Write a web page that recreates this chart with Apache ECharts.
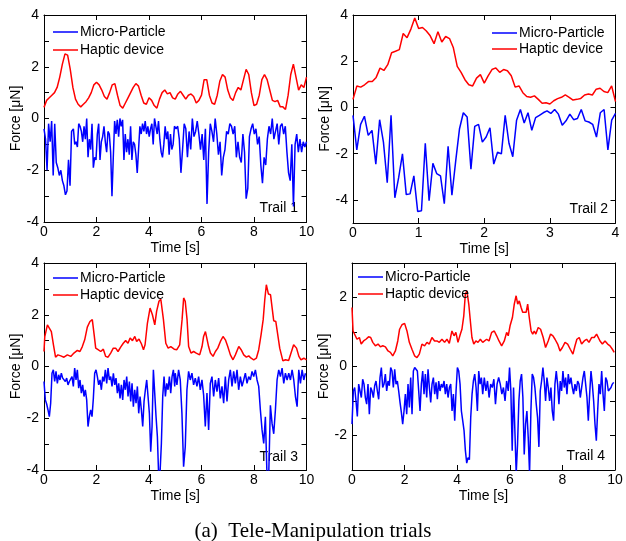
<!DOCTYPE html>
<html>
<head>
<meta charset="utf-8">
<script src="https://cdn.jsdelivr.net/npm/echarts@6/dist/echarts.min.js"></script>
<style>html,body{margin:0;padding:0;background:#fff}#c{width:626px;height:541px}</style>
</head>
<body>
<div id="c"></div>
<script>
// ---------- data ----------
const seriesNames = ['Micro-Particle', 'Haptic device'];
const trailLabels = ['Trail 1', 'Trail 2', 'Trail 3', 'Trail 4'];
const xTicks10 = [0, 2, 4, 6, 8, 10];
const xTicks4 = [0, 1, 2, 3, 4];
const caption = '(a)  Tele-Manipulation trials';

// Trail 1
const p1RedV = [0.43,0.7,0.8,0.9,1.0,1.2,1.6,2.1,2.5,2.45,
1.9,1.2,0.75,0.55,0.45,0.55,0.65,0.8,1.0,1.3,
1.4,1.3,1.1,0.85,0.75,1.0,1.3,1.35,0.9,0.5,
0.4,0.6,0.8,1.0,1.2,1.35,1.25,0.9,0.6,0.55,
0.8,0.7,0.5,0.4,0.75,1.0,1.1,0.95,1.0,0.8,
0.75,0.95,1.05,0.9,0.75,0.9,0.95,0.85,0.6,0.7,
0.9,1.5,1.5,0.9,0.6,0.55,0.9,1.45,1.7,1.6,
1.1,0.8,0.7,1.0,1.2,1.1,1.5,1.9,1.7,1.0,
0.5,0.55,0.9,1.5,1.7,1.5,1.1,0.7,0.65,0.7,
0.45,0.45,0.35,0.9,1.7,2.1,1.6,1.1,1.3,1.2,1.6];
const p1BlueA = [-0.4,-0.8,-2.0,-0.2,-0.9,-0.1,-2.2,-0.2,-1.7,-1.9,-2.2,-2.0,-2.4,-2.6,-2.95,-2.8,-1.6,-2.6,-0.5];
const p1BlueB = [-0.4,-1.0,-0.9,-1.1,-0.2,-0.3,-0.5,-0.9,-0.3,-0.8,0.0,-1.5,-0.8,-1.2,-0.2,-1.9,-1.5,-1.6,-0.6,-0.2,
-1.6,-0.9,-0.7,-0.3,-0.9,-1.3,-0.5,-0.6,-1.3,-3.0,-1.5,-0.1,-0.6,-0.05,-0.7,0.0,-0.3,-0.05,-1.6,-0.6,
-1.3,-0.8,-1.4,-0.3,-1.6,-0.9,-1.0,-1.4,-2.1,-1.2,-0.3,-0.6,-0.2,-0.5,-0.1,-0.6,-0.3,-0.7,-0.4,-0.2,
-1.0,0.0,-0.3,-0.6,-0.1,-0.8,-1.3,-1.5,-1.0,-0.3,-0.8,-0.5,-1.4,-0.6,-1.2,-1.0,-0.3];
const p1BlueC = [-0.4,-0.3,-0.8,-2.1,-1.2,-0.2,-0.4,-1.5,-0.5,-1.2,0.0,-0.7,-0.5,-0.1,-0.6,-1.2,-0.6,-1.6,-0.4,-3.3,
-1.3,-0.2,-0.5,-0.9,0.0,-0.6,-1.4,-0.9,-2.2,-1.5,-1.2,-0.5,-0.6,-0.2,-0.3,-0.6,-0.3,-1.5,-0.9,-1.5,
-1.7,-0.6,-1.3,-3.1,-2.7,-0.7,-0.4,-0.2,-0.6,-0.4,-1.0,-0.7,-1.8,-2.5,-1.5,-1.8,-0.8,-0.3,-0.6,0.0,
-0.8,-0.5,-0.2,-1.0,-0.3,-0.2,-0.6,-0.3,-1.3,-2.1,-2.4,-1.0,-3.4,-1.0,-0.6,-1.3,-0.8,-1.3,-0.9,-1.1,-0.9];

// Trail 2
const p2RedV = [0.35,0.93,0.88,0.98,1.12,1.12,1.3,1.7,1.6,1.85,
2.37,2.43,2.5,3.2,3.02,3.39,3.87,3.42,3.46,3.31,
3.1,2.76,3.28,2.83,3.07,2.98,2.58,1.78,1.52,1.2,
0.98,0.93,1.27,1.42,1.05,1.37,1.64,1.71,1.52,1.64,
1.59,1.37,0.88,0.93,0.64,0.47,0.44,0.5,0.35,0.18,
0.2,0.15,0.29,0.38,0.44,0.54,0.44,0.32,0.35,0.39,
0.54,0.58,0.54,0.79,0.83,0.69,0.64,0.93,0.25];
const p2BlueV = [-0.34,-1.84,-0.73,-0.38,-1.21,-0.99,-2.45,-0.53,-1.5,-3.26,
-0.34,-3.91,-3.04,-2.01,-3.77,-3.74,-2.96,-4.5,-4.47,-1.55,
-4.03,-2.42,-2.86,-2.96,-4.16,-1.68,-3.8,-2.31,-0.92,-0.23,
-0.41,-2.67,-0.82,-0.73,-1.5,-1.28,-0.88,-2.45,-1.94,-2.01,
-0.34,-1.55,-2.13,-0.55,-0.09,-0.67,-0.23,-0.99,-0.44,-0.34,
-0.23,-0.15,-0.26,-0.09,-0.29,-0.77,-0.58,-0.29,-0.53,-0.48,
-0.09,-0.58,-0.63,-0.73,-1.28,-0.23,-0.09,-1.84,-0.55,-0.26];

// Trail 3
const p3Red = [[0,0.58],[0.03,1.16],[0.13,1.61],[0.19,1.68],[0.28,1.35],[0.36,0.84],[0.44,0.36],[0.53,0.45],[0.64,0.41],[0.76,0.36],
[0.89,0.45],[1.02,0.39],[1.14,0.52],[1.27,0.62],[1.37,0.58],[1.46,0.77],[1.55,1.03],[1.65,1.52],[1.75,1.74],[1.84,1.81],
[1.91,1.23],[1.97,0.71],[2.06,0.65],[2.16,0.58],[2.26,0.67],[2.35,0.39],[2.44,0.36],[2.54,0.52],[2.64,0.71],[2.73,0.71],
[2.82,0.58],[2.92,0.75],[3.02,0.9],[3.11,1.0],[3.2,0.9],[3.28,1.1],[3.37,1.0],[3.46,1.16],[3.53,0.97],[3.62,1.06],
[3.71,0.88],[3.79,0.65],[3.85,0.84],[3.94,1.68],[4.04,2.26],[4.13,2.0],[4.22,1.61],[4.29,2.13],[4.38,2.52],[4.45,2.6],
[4.55,1.81],[4.64,0.9],[4.73,0.71],[4.83,0.77],[4.96,0.67],[5.06,0.65],[5.17,0.84],[5.26,1.81],[5.32,2.65],[5.38,2.52],
[5.45,1.81],[5.51,0.77],[5.6,0.52],[5.7,0.58],[5.8,0.52],[5.93,0.45],[6.02,0.77],[6.08,1.16],[6.15,1.35],[6.21,1.29],
[6.27,0.77],[6.34,0.52],[6.44,0.39],[6.53,0.58],[6.62,0.71],[6.72,0.97],[6.82,1.16],[6.91,1.03],[7.0,0.77],[7.1,0.45],
[7.2,0.26],[7.29,0.45],[7.42,0.77],[7.51,0.65],[7.61,0.45],[7.71,0.36],[7.8,0.41],[7.89,0.32],[7.99,0.26],[8.09,0.32],
[8.18,0.65],[8.27,1.23],[8.35,1.81],[8.41,2.58],[8.47,3.16],[8.55,2.8],[8.63,2.77],[8.7,2.19],[8.75,1.77],[8.83,1.74],
[8.98,0.71],[9.1,0.22],[9.2,0.26],[9.32,0.23],[9.41,0.52],[9.51,0.84],[9.62,0.71],[9.71,0.39],[9.79,0.26],[9.9,0.32],[10.0,0.26]];
const p3BlueA = [-0.58,-1.29,-1.45,-1.68,-1.94,-1.42,-0.26,-0.13,-0.58,-0.19,-0.65,-0.32,-0.52,-0.26,-0.45,-0.39,-0.58,-0.45,-0.71,-0.58,
-0.52,-0.39,-0.77,-0.06,-0.52,-0.13,-0.84,-0.52,-1.03,-0.71,-1.16,-0.9,-1.29,-2.32,-1.94,-1.68,-1.94,-1.23,-0.26,-0.13,
-0.39,-0.71,-0.52,-0.9,-0.39,-0.58,-0.13,-0.65,-0.06,-0.52,-0.39,-0.77,-0.26,-0.71,-0.45,-1.03,-0.65,-1.23,-0.71,-1.29,
-0.52,-0.9,-0.39,-1.16,-0.58,-1.35,-0.65,-1.55,-0.9,-1.42,-0.77,-1.81,-1.16,-1.68,-2.32,-1.35,-0.9,-0.52,-1.16,-1.81,
-3.29,-2.32,-0.13,-1.03,-1.94,-2.71,-4.3,-4.1,-2.97,-1.16,-0.39,-1.16,-0.65,-0.9,-0.39,-1.03,-0.39,-0.13,-0.77];
const p3BlueB = [-0.26,-0.71,-0.13,-0.52,-1.81,-3.87,-3.1,-0.9,-0.19,-0.52,-0.26,-0.71,-0.45,-0.77,-0.39,-0.9,-0.52,-1.1,-2.32,-1.03,
-2.45,-0.65,-0.39,-1.16,-0.52,-0.97,-0.45,-1.23,-0.77,-1.42,-0.39,-1.35,-0.52,-0.13,-0.77,-0.19,-0.65,-0.13,-0.9,-0.39,
-0.77,-0.52,-0.26,-0.65,-0.39,-0.52,-0.19,-0.39,-0.13,-0.52,-0.77,-1.68,-2.45,-2.97,-1.94,-4.3,-4.2,-1.5,-2.2,-2.6,
-1.68,-0.52,-0.13,-0.39,-0.06,-0.65,-0.26,-0.52,-0.26,-0.52,-0.13,-0.52,-1.16,-1.55,-0.13,-0.65,-0.13,-0.52,-0.26];

// Trail 4
const p4Red = [[0,1.71],[0.04,1.03],[0.1,0.99],[0.19,0.79],[0.28,0.84],[0.35,0.65],[0.44,0.74],[0.53,0.79],[0.63,0.86],[0.71,0.84],
[0.79,0.7],[0.89,0.6],[0.99,0.65],[1.08,0.57],[1.17,0.6],[1.27,0.57],[1.37,0.45],[1.46,0.41],[1.55,0.31],[1.65,0.45],
[1.74,0.74],[1.81,1.08],[1.9,1.21],[2.0,1.25],[2.09,1.03],[2.18,0.7],[2.28,0.5],[2.38,0.31],[2.47,0.26],[2.56,0.36],
[2.66,0.65],[2.76,0.6],[2.85,0.7],[2.94,0.65],[3.04,0.84],[3.14,0.74],[3.23,0.74],[3.32,0.7],[3.42,0.79],[3.52,0.7],
[3.61,0.79],[3.7,0.67],[3.8,1.03],[3.88,0.89],[3.95,0.99],[4.03,0.7],[4.12,0.94],[4.18,1.08],[4.25,1.47],[4.31,2.1],
[4.37,2.19],[4.44,1.81],[4.5,1.32],[4.56,0.84],[4.63,0.65],[4.71,0.74],[4.79,0.7],[4.88,0.79],[4.97,0.7],[5.03,0.7],
[5.12,0.79],[5.21,0.74],[5.31,0.99],[5.41,1.03],[5.5,0.89],[5.59,0.74],[5.69,0.6],[5.79,0.74],[5.88,0.99],[5.94,0.89],
[6.01,1.18],[6.1,1.42],[6.17,1.81],[6.24,2.05],[6.3,1.81],[6.36,1.9],[6.43,1.71],[6.49,1.57],[6.55,1.61],[6.62,1.57],
[6.68,1.81],[6.74,1.42],[6.81,1.03],[6.87,0.94],[6.93,1.03],[6.99,0.94],[7.08,1.13],[7.17,1.08],[7.27,0.84],[7.36,0.55],
[7.46,0.74],[7.55,0.94],[7.64,0.89],[7.72,0.79],[7.82,0.65],[7.91,0.45],[8.0,0.55],[8.1,0.7],[8.2,0.65],[8.3,0.5],
[8.4,0.36],[8.48,0.6],[8.55,0.79],[8.64,0.84],[8.73,0.65],[8.83,0.74],[8.92,0.79],[9.01,0.7],[9.11,0.84],[9.21,0.84],
[9.3,0.94],[9.37,0.99],[9.43,0.74],[9.52,0.65],[9.62,0.74],[9.72,0.65],[9.81,0.6],[9.9,0.5],[9.97,0.41]];
const p4BlueA = [-1.67,-0.71,-0.61,-1.0,-1.45,-0.51,-0.71,-0.9,-0.37,-0.51,-0.9,-1.09,-0.51,-1.38,-0.61,-0.71,-0.9,-0.56,-0.42,-0.71,
-0.95,-0.32,-0.03,-0.61,-0.51,-0.22,-0.71,-0.42,-0.56,-0.03,-0.13,-0.61,-0.08,-0.51,-0.42,-0.71,-1.04,-1.33,-1.67,-1.29,
-0.8,-1.38,-0.51,-1.19,-0.32,-1.38,-0.13,-0.03,-0.03,-0.13,-0.71,-1.29,-0.51,-0.13,-0.8,-0.22,-0.9,-0.08,-0.61,-1.04,
-0.51,-0.32,-0.8,-0.46,-0.95,-0.42,-0.71,-0.51,-0.61,-0.42,-0.8,-0.51,-0.9,-0.61,-0.51,-1.29,-0.8,-1.57,-0.71,-0.03,
-0.13,-0.51,-1.29,-1.57,-1.86,-2.44,-2.8,-2.64,-2.7,-1.48,-0.8,-0.42,-0.22,-0.61,-1.29,-0.13,-0.51,-0.32];
const p4BlueB = [-0.8,-0.32,-0.71,-0.42,-0.9,-0.51,-0.61,-0.37,-1.09,-0.51,-0.32,-0.51,-0.8,-0.61,-1.0,-0.42,-0.71];
const p4BlueC = [-0.03,-0.71,-2.44,-0.61,-1.86,-3.1,-2.25,-1.0,-0.42,-0.22,-0.9,-2.55,-1.67,-1.29,-2.06,-3.1,-1.29,-0.22,-0.32,-0.61,
-1.09,-1.48,-2.33,-0.71,-0.42,-0.03,-0.42,-1.0,-0.32,-0.61,-1.0,-0.61,-1.29,-1.57,-0.51,-0.13,-0.51,-1.09,-0.42,-0.71,
-0.13,-0.61,-0.32,-0.8,-0.22,-0.51,-0.32,-0.61,-0.8,-0.51,-0.71,-0.42,-0.51,-0.9,-0.61,-0.32,-0.13,-0.51,-0.9,-1.57,
-0.8,-0.13,-0.51,-1.0,-1.67,-2.15,-1.29,-0.51,-0.8,-0.13,-0.8,-1.29,-0.32,-0.42,-0.71,-0.71,-0.61,-0.51,-0.46];

// ---------- helpers ----------
// uniform time base for a run of samples
function seq(t0, t1, vals) {
  const n = vals.length;
  return vals.map((v, i) => [t0 + (t1 - t0) * i / (n - 1), v]);
}
const p1Red = seq(0, 10, p1RedV);
const p1Blue = seq(0, 1.05, p1BlueA).concat(seq(1.12, 4.97, p1BlueB), seq(5.03, 10, p1BlueC));
const p2Red = seq(0, 4, p2RedV);
const p2Blue = seq(0, 4, p2BlueV);
const p3Blue = seq(0, 4.98, p3BlueA).concat(seq(5.0, 9.96, p3BlueB));
const p4Blue = seq(0, 4.92, p4BlueA).concat(seq(4.97, 5.94, p4BlueB), seq(5.99, 9.95, p4BlueC));

const panels = [
  {grid: {left: 44, top: 15, width: 262.5, height: 207}, xMax: 10, xInt: 2, yMin: -4, yMax: 4, yTicks: [-4,-3,-2,-1,0,1,2,3,4], yLabels: [-4,-2,0,2,4], blue: p1Blue, red: p1Red,
   legend: {left: 53, top: 25, itemGap: 4}, trail: {x: 298, y: 208}, yGap: 18},
  {grid: {left: 353, top: 15, width: 262.5, height: 208}, xMax: 4, xInt: 1, yMin: -5, yMax: 4, yTicks: [-4,-2,0,2,4], yLabels: [-4,-2,0,2,4], blue: p2Blue, red: p2Red,
   legend: {left: 492, top: 26, itemGap: 2}, trail: {x: 608, y: 209}, yGap: 18},
  {grid: {left: 44, top: 263, width: 262.5, height: 207}, xMax: 10, xInt: 2, yMin: -4, yMax: 4, yTicks: [-4,-3,-2,-1,0,1,2,3,4], yLabels: [-4,-2,0,2,4], blue: p3Blue, red: p3Red,
   legend: {left: 53, top: 271, itemGap: 3}, trail: {x: 298, y: 457}, yGap: 18},
  {grid: {left: 352, top: 263, width: 263, height: 207}, xMax: 10, xInt: 2, yMin: -3, yMax: 3, yTicks: [-3,-2,-1,0,1,2,3], yLabels: [-2,0,2], blue: p4Blue, red: p4Red,
   legend: {left: 358, top: 270, itemGap: 3}, trail: {x: 605, y: 456}, yGap: 18}
];

const FONT = 'Liberation Sans';
const grids = [], xAxes = [], yAxes = [], series = [], legends = [], graphics = [];
panels.forEach((p, i) => {
  grids.push(Object.assign({containLabel: false}, p.grid));
  const lineBase = {show: true, onZero: false, lineStyle: {color: '#000', width: 1}};
  const tickBase = {show: true, inside: true, length: 5, lineStyle: {color: '#000', width: 1}};
  const xt = p.xMax === 10 ? xTicks10 : xTicks4;
  // bottom x
  xAxes.push({type: 'value', gridIndex: i, min: 0, max: p.xMax, interval: p.xInt, position: 'bottom',
    name: 'Time [s]', nameLocation: 'middle', nameGap: 19, nameTextStyle: {fontFamily: FONT, fontSize: 14, color: '#000'},
    axisLine: lineBase, axisTick: Object.assign({customValues: xt}, tickBase),
    axisLabel: {customValues: xt, fontFamily: FONT, fontSize: 14, color: '#000', margin: 3}, splitLine: {show: false}});
  // top x (box)
  xAxes.push({type: 'value', gridIndex: i, min: 0, max: p.xMax, interval: p.xInt, position: 'top',
    axisLine: lineBase, axisTick: Object.assign({customValues: xt}, tickBase), axisLabel: {show: false}, splitLine: {show: false}});
  // left y
  yAxes.push({type: 'value', gridIndex: i, min: p.yMin, max: p.yMax, interval: 1, position: 'left',
    name: 'Force [\u03bcN]', nameLocation: 'middle', nameGap: p.yGap, nameTextStyle: {fontFamily: FONT, fontSize: 14, color: '#000'},
    axisLine: lineBase, axisTick: Object.assign({customValues: p.yTicks}, tickBase),
    axisLabel: {customValues: p.yLabels, fontFamily: FONT, fontSize: 14, color: '#000', margin: 5}, splitLine: {show: false}});
  // right y (box)
  yAxes.push({type: 'value', gridIndex: i, min: p.yMin, max: p.yMax, interval: 1, position: 'right',
    axisLine: lineBase, axisTick: Object.assign({customValues: p.yTicks}, tickBase), axisLabel: {show: false}, splitLine: {show: false}});

  series.push({type: 'line', name: seriesNames[0], xAxisIndex: 2 * i, yAxisIndex: 2 * i, data: p.blue,
    symbol: 'none', lineStyle: {color: '#0000ff', width: 1.5}, itemStyle: {color: '#0000ff'}, clip: true, animation: false});
  series.push({type: 'line', name: seriesNames[1], xAxisIndex: 2 * i, yAxisIndex: 2 * i, data: p.red,
    symbol: 'none', lineStyle: {color: '#ff0000', width: 1.5}, itemStyle: {color: '#ff0000'}, clip: true, animation: false});

  legends.push({data: seriesNames, orient: 'vertical', left: p.legend.left, top: p.legend.top, itemGap: p.legend.itemGap,
    icon: 'rect', itemWidth: 25, itemHeight: 1.5, padding: 0, selectedMode: false,
    textStyle: {fontFamily: FONT, fontSize: 14, color: '#000', lineHeight: 14, padding: [0, 0, 0, -3]}});

  graphics.push({type: 'text', x: p.trail.x, y: p.trail.y, style: {text: trailLabels[i], fontFamily: FONT, fontSize: 14, fill: '#000', align: 'right', verticalAlign: 'middle'}});
});
graphics.push({type: 'text', x: 313, y: 531, style: {text: caption, fontFamily: 'Liberation Serif', fontSize: 21, fill: '#000', align: 'center', verticalAlign: 'middle'}});

const chart = echarts.init(document.getElementById('c'), null, {renderer: 'canvas'});
chart.setOption({
  animation: false,
  backgroundColor: '#fff',
  grid: grids, xAxis: xAxes, yAxis: yAxes, series: series, legend: legends, graphic: graphics
});
</script>
</body>
</html>
